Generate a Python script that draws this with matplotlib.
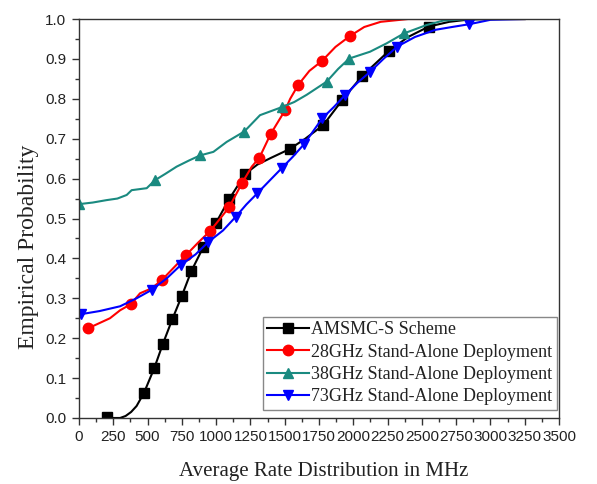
import matplotlib
matplotlib.use('Agg')
import matplotlib.pyplot as plt
from matplotlib.ticker import MultipleLocator

# AMSMC-S scheme
amsmc_x = [205, 250, 300, 340, 380, 420, 474, 549, 612, 680, 751, 819, 906, 999,
           1094, 1213, 1300, 1400, 1536, 1650, 1781, 1920, 2064, 2263, 2400,
           2550, 2700, 2850, 3000, 3250]
amsmc_p = [0.003, 0.0, 0.0, 0.005, 0.015, 0.03, 0.063, 0.125, 0.186, 0.247,
           0.307, 0.368, 0.428, 0.489, 0.548, 0.612, 0.635, 0.652, 0.674, 0.70,
           0.734, 0.797, 0.857, 0.921, 0.955, 0.981, 0.993, 0.999, 1.0, 1.0]
amsmc_mk = [0, 6, 7, 8, 9, 10, 11, 12, 13, 14, 15, 18, 20, 21, 22, 23, 25]

# 28 GHz stand-alone
g28_x = [68, 226, 300, 377, 445, 530, 605, 700, 780, 870, 955, 1030, 1096, 1191,
         1260, 1315, 1398, 1504, 1540, 1599, 1680, 1772, 1870, 1974, 2080, 2200,
         2400, 2600, 3250]
g28_p = [0.225, 0.25, 0.27, 0.285, 0.3125, 0.325, 0.346, 0.38, 0.408, 0.44,
         0.468, 0.50, 0.529, 0.590, 0.63, 0.652, 0.712, 0.772, 0.80, 0.835,
         0.87, 0.895, 0.93, 0.957, 0.98, 0.993, 1.0, 1.0, 1.0]
g28_mk = [0, 3, 6, 8, 10, 12, 13, 15, 16, 17, 19, 21, 23]

# 38 GHz stand-alone
g38_x = [0, 100, 200, 280, 348, 384, 494, 554, 630, 712, 800, 882, 980, 1077,
         1205, 1320, 1478, 1570, 1660, 1806, 1890, 1971, 2122, 2243, 2370,
         2535, 2655, 2800, 3000, 3250]
g38_p = [0.536, 0.54, 0.546, 0.55, 0.559, 0.571, 0.576, 0.596, 0.612, 0.63,
         0.645, 0.658, 0.667, 0.692, 0.718, 0.759, 0.779, 0.792, 0.81, 0.843,
         0.875, 0.901, 0.918, 0.939, 0.964, 0.985, 0.996, 0.999, 1.0, 1.0]
g38_mk = [0, 7, 11, 14, 16, 19, 21, 24]

# 73 GHz stand-alone
g73_x = [12, 150, 300, 420, 530, 640, 741, 850, 943, 1050, 1145, 1220, 1300,
         1390, 1478, 1560, 1643, 1710, 1774, 1860, 1942, 2030, 2124, 2220,
         2321, 2450, 2600, 2720, 2846, 3000, 3250]
g73_p = [0.260, 0.268, 0.28, 0.30, 0.321, 0.35, 0.383, 0.41, 0.441, 0.47,
         0.505, 0.535, 0.563, 0.595, 0.626, 0.655, 0.687, 0.72, 0.751, 0.78,
         0.810, 0.84, 0.868, 0.90, 0.931, 0.955, 0.973, 0.98, 0.987, 0.998, 1.0]
g73_mk = [0, 4, 6, 8, 10, 12, 14, 16, 18, 20, 22, 24, 28]

SERIF = ['Liberation Serif', 'DejaVu Serif']
SANS = ['Liberation Sans', 'DejaVu Sans']

fig = plt.figure(figsize=(5.97, 4.84), dpi=100)
ax = fig.add_axes([0.1323, 0.1364, 0.8040, 0.8243])

ax.plot(amsmc_x, amsmc_p, color='black', lw=1.5, marker='s', ms=6.5,
        markevery=amsmc_mk, label='AMSMC-S Scheme')
ax.plot(g28_x, g28_p, color='red', lw=1.5, marker='o', ms=7.5,
        markevery=g28_mk, label='28GHz Stand-Alone Deployment')
ax.plot(g38_x, g38_p, color='#1a8a80', lw=1.5, marker='^', ms=7.5,
        markevery=g38_mk, label='38GHz Stand-Alone Deployment')
ax.plot(g73_x, g73_p, color='blue', lw=1.5, marker='v', ms=7.5,
        markevery=g73_mk, label='73GHz Stand-Alone Deployment')

ax.set_xlim(0, 3500)
ax.set_ylim(0, 1.0)
ax.xaxis.set_major_locator(MultipleLocator(250))
ax.xaxis.set_minor_locator(MultipleLocator(125))
ax.yaxis.set_major_locator(MultipleLocator(0.1))
ax.yaxis.set_minor_locator(MultipleLocator(0.05))
ax.tick_params(which='both', direction='out', top=False, right=False,
               width=1.0, color='#333333')
ax.tick_params(which='major', length=5, labelsize=11, pad=4)
ax.tick_params(which='minor', length=3)
for lab in ax.get_xticklabels() + ax.get_yticklabels():
    lab.set_family(SANS)
    lab.set_color('#222222')
ax.yaxis.set_major_formatter(plt.FuncFormatter(lambda v, _: f'{v:.1f}'))
for sp in ax.spines.values():
    sp.set_linewidth(1.0)
    sp.set_color('#333333')

ax.set_xlabel('Average Rate Distribution in MHz', family=SERIF, fontsize=15,
              color='#222222')
ax.xaxis.set_label_coords(0.51, -0.11)
ax.xaxis.label.set_va('top')
ax.set_ylabel('Empirical Probability', family=SERIF, fontsize=17,
              color='#222222')
ax.yaxis.set_label_coords(-0.083, 0.43)

leg = ax.legend(loc='lower right', bbox_to_anchor=(0.9958, 0.02),
                prop={'family': SERIF, 'size': 13},
                fancybox=False, framealpha=1, edgecolor='#888888',
                handlelength=2.3, handletextpad=0.15, borderpad=0.25,
                labelspacing=0.3, borderaxespad=0)
for txt in leg.get_texts():
    txt.set_color('#222222')

fig.savefig('out.png', dpi=100)
